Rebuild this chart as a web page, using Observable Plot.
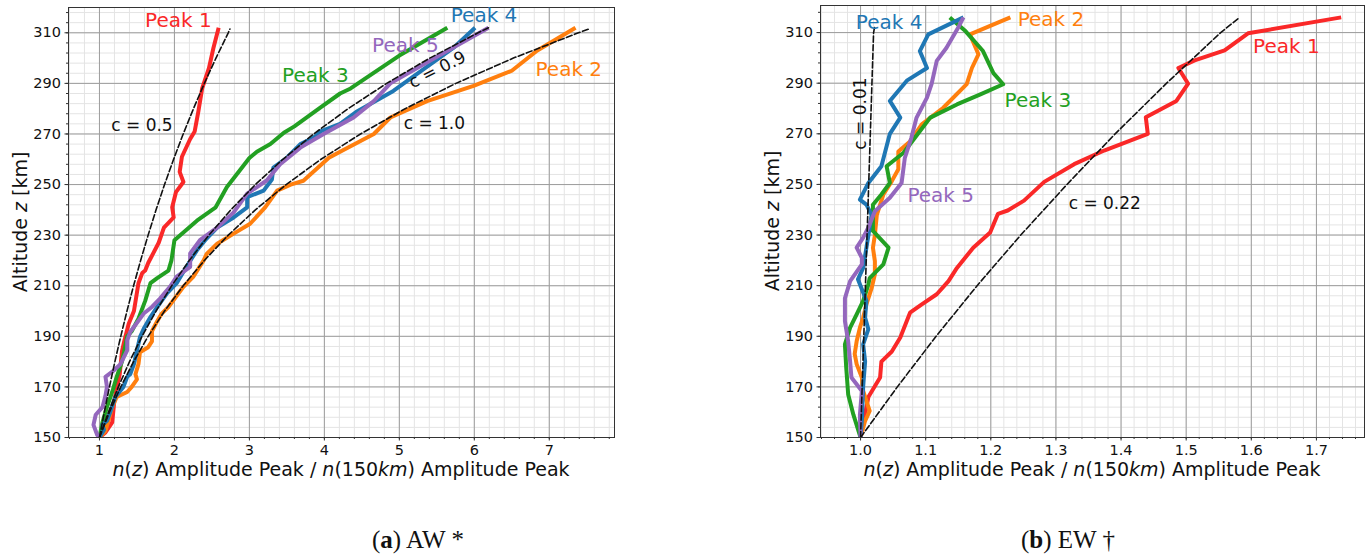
<!DOCTYPE html>
<html>
<head>
<meta charset="utf-8">
<script src="https://cdn.jsdelivr.net/npm/d3@7"></script>
<script src="https://cdn.jsdelivr.net/npm/@observablehq/plot@0.6"></script>
<style>
  html, body { margin: 0; padding: 0; background: white; }
  #wrap { position: relative; width: 1370px; height: 559px; overflow: hidden; background: white; }
  .panel { position: absolute; top: 0; }
  .cap { position: absolute; font-family: "Liberation Serif", "DejaVu Serif", serif; font-size: 25px; color: #111; transform: translate(-50%, -50%); white-space: nowrap; }
</style>
</head>
<body>
<div id="wrap">
  <div class="panel" id="left" style="left:0px"></div>
  <div class="panel" id="right" style="left:685px"></div>
  <div class="cap" style="left:418px; top:540px">(<b>a</b>) AW *</div>
  <div class="cap" style="left:1068px; top:540px">(<b>b</b>) EW †</div>
</div>
<script>
// ---------- Panel (a) AW : [ratio n(z)/n(150km), altitude km] ----------
const awPeak1 = [[1.0,150],[1.08,152],[1.17,156],[1.2,165],[1.27,175],[1.30,184],[1.33,188],[1.39,195],[1.46,200],[1.52,211],[1.57,215],[1.61,216],[1.65,219],[1.72,223],[1.79,227],[1.86,233],[1.99,237],[1.97,241],[2.02,247],[2.12,251],[2.07,255],[2.10,261],[2.21,268],[2.27,271],[2.32,279],[2.37,288],[2.46,296],[2.52,304],[2.59,312]];
const awPeak2 = [[1.0,150],[1.08,152.6],[1.12,156.6],[1.17,162],[1.23,166],[1.37,168],[1.43,170],[1.50,173],[1.48,175],[1.52,179],[1.54,183.7],[1.65,185.7],[1.70,188],[1.70,192],[1.77,196],[1.83,199],[1.92,201.6],[2.12,209.6],[2.25,213.5],[2.39,220],[2.43,222.6],[2.57,226.6],[2.79,230.6],[3.01,234.5],[3.21,241],[3.37,247.6],[3.55,250],[3.72,251.5],[4.06,260.6],[4.21,263],[4.66,270],[4.88,276.5],[5.37,283],[5.99,289],[6.5,295],[6.84,303],[7.35,312]];
const awPeak3 = [[1.0,150],[1.04,156],[1.10,162],[1.17,168],[1.23,174],[1.30,180],[1.33,184],[1.37,190],[1.43,192],[1.52,197],[1.61,204],[1.68,211],[1.77,213],[1.92,216],[1.96,220],[2.0,228],[2.3,235.7],[2.55,241],[2.7,249],[3.0,260.5],[3.1,263],[3.28,266],[3.46,270.5],[3.6,273],[3.95,280.5],[4.21,286],[4.35,288],[5.0,301],[5.64,312]];
const awPeak4 = [[1.0,150],[1.06,153],[1.04,155],[1.10,156.6],[1.15,160.6],[1.21,166],[1.32,170],[1.37,174],[1.41,175],[1.46,179],[1.50,184.4],[1.54,189.7],[1.59,193],[1.68,197.6],[1.77,201.6],[1.90,207],[2.03,211],[2.16,217.5],[2.30,224],[2.41,228],[2.57,233],[2.79,237],[2.97,241],[2.97,245],[3.19,247.6],[3.30,252],[3.32,256.7],[3.50,260.6],[3.68,266],[3.86,268.6],[3.95,271],[4.21,274],[4.44,279],[4.92,287],[5.72,304],[6.01,312]];
const awPeak5 = [[1.0,150],[0.97,151],[0.92,155],[0.95,159],[1.04,162],[1.08,166.5],[1.10,170],[1.08,174],[1.19,176.5],[1.28,179],[1.37,184.4],[1.37,188.4],[1.41,191.7],[1.59,199],[1.70,201.6],[1.81,205],[1.94,209.6],[2.03,213.6],[2.21,217.5],[2.21,222.8],[2.34,228],[2.57,233],[2.79,239],[2.97,246.4],[3.23,251.6],[3.41,258],[3.68,264.6],[3.99,270],[4.39,276.5],[4.66,283],[4.88,290],[5.59,302],[6.19,312]];
const awC05 = [[1,150],[1.0645,160],[1.133,170],[1.206,180],[1.284,190],[1.367,200],[1.455,210],[1.549,220],[1.649,230],[1.755,240],[1.868,250],[1.989,260],[2.117,270],[2.254,280],[2.399,290],[2.554,300],[2.718,310],[2.74,311.5]];
const awC09 = [[1,150],[1.119,160],[1.252,170],[1.401,180],[1.568,190],[1.755,200],[1.964,210],[2.198,220],[2.46,230],[2.752,240],[3.08,250],[3.447,260],[3.857,270],[4.317,280],[4.831,290],[5.406,300],[6.05,310],[6.19,312]];
const awC10 = [[1,150],[1.133,160],[1.284,170],[1.455,180],[1.649,190],[1.868,200],[2.117,210],[2.399,220],[2.718,230],[3.08,240],[3.49,250],[3.955,260],[4.482,270],[5.078,280],[5.755,290],[6.521,300],[7.389,310],[7.55,311.7]];
const awTicksX = [1,2,3,4,5,6,7];
const awTicksY = [150,170,190,210,230,250,270,290,310];

// ---------- Panel (b) EW ----------
const ewPeak1 = [[1.0,150],[1.006,158],[1.012,166],[1.03,173.7],[1.032,180],[1.048,184],[1.061,189.5],[1.071,196],[1.076,199.3],[1.094,202.6],[1.117,206.6],[1.135,211.8],[1.148,217],[1.173,225],[1.199,231],[1.211,238.4],[1.226,239.7],[1.251,243.6],[1.282,251],[1.328,258],[1.374,263.4],[1.441,270],[1.438,276.5],[1.485,283],[1.503,289.8],[1.488,296],[1.513,299],[1.559,303],[1.595,309.7],[1.738,316]];
const ewPeak2 = [[1.0,150],[1.007,156.6],[1.014,160.5],[1.004,168.4],[1.002,173.7],[0.994,179],[0.991,183],[0.994,188],[0.999,193.4],[1.004,197.4],[1.009,202.6],[1.017,209],[1.022,214.5],[1.022,219.7],[1.019,225],[1.022,230],[1.025,238],[1.035,246],[1.048,251.3],[1.058,256],[1.058,263],[1.076,267],[1.094,273.7],[1.127,280.3],[1.163,289.6],[1.171,296],[1.181,301.4],[1.168,309.3],[1.230,316]];
const ewPeak3 = [[1.0,150],[0.989,159],[0.981,167],[0.978,177.6],[0.976,186.8],[0.984,193.4],[0.994,198.7],[1.004,204],[1.012,210.5],[1.014,213],[1.035,218.4],[1.043,225],[1.019,231.6],[1.019,242],[1.032,246],[1.045,250.6],[1.040,257.2],[1.066,262.5],[1.091,271],[1.107,276.4],[1.148,281.6],[1.184,285.6],[1.219,289.6],[1.204,294],[1.188,302.7],[1.161,310.6],[1.137,316]];
const ewPeak4 = [[1.0,150],[1.002,156.6],[1.004,170],[1.007,180],[1.004,186.8],[1.012,192.8],[1.007,197.4],[1.009,204],[1.002,208.6],[0.996,212.5],[1.004,217],[1.009,225],[1.014,233],[1.017,238],[1.009,242],[0.999,244],[1.012,250.6],[1.032,257.2],[1.045,270],[1.061,276.4],[1.045,283],[1.071,291],[1.102,296],[1.091,302.7],[1.104,309.3],[1.158,316]];
const ewPeak5 = [[1.0,150],[0.999,159],[1.002,168.4],[0.986,173.7],[0.984,180],[0.981,188],[0.976,196],[0.976,205],[0.984,211.8],[1.002,218.4],[1.002,221],[0.994,225],[1.004,229],[1.012,233],[1.022,239.4],[1.045,244.7],[1.063,250.6],[1.068,260.5],[1.078,268.4],[1.086,276.4],[1.102,284.3],[1.109,289.6],[1.117,298.8],[1.132,304],[1.150,312],[1.158,316]];
const ewC001 = [[1,150],[1.005,190],[1.01,230],[1.015,270],[1.02,310],[1.0215,312]];
const ewC022 = [[1,150],[1.0565,170],[1.116,190],[1.179,210],[1.246,230],[1.317,250],[1.391,270],[1.47,290],[1.553,310],[1.582,316]];
const ewTicksX = [1.0,1.1,1.2,1.3,1.4,1.5,1.6,1.7];
const ewTicksY = [150,170,190,210,230,250,270,290,310];

// ---------- Annotations (data coordinates) ----------
const peakNames = ["Peak 1","Peak 2","Peak 3","Peak 4","Peak 5"];
const awPeakLabelX = [2.053, 7.26, 3.88, 6.13, 5.08];
const awPeakLabelY = [314.8, 295.6, 293, 316.7, 304.9];
const ewPeakLabelX = [1.6538, 1.2923, 1.2723, 1.0438, 1.123];
const ewPeakLabelY = [304.3, 315.2, 283.2, 314, 245.4];
const awCNames = ["c = 0.5","c = 0.9","c = 1.0"];
const awCLabelX = [1.567, 5.507, 5.467];
const awCLabelY = [273.3, 295.4, 274];
const ewCNames = ["c = 0.01","c = 0.22"];
const ewCLabelX = [1.0, 1.375];
const ewCLabelY = [278, 242.3];

const colors = ["#fa2828", "#ff7f0e", "#22a022", "#1f77b4", "#9467bd"];

function panel({peaks, dashed, ticksX, ticksY, xDomain, yDomain, minorX, minorY, marginLeft, marginRight, marginTop, fmt, peakLX, peakLY, cNames, cLX, cLY, cRot}) {
  const W = 685, H = 490, MB = 53;
  const marks = [
    Plot.gridX(minorX, {stroke: "#e4e4e4", strokeOpacity: 1, strokeWidth: 1}),
    Plot.gridY(minorY, {stroke: "#e4e4e4", strokeOpacity: 1, strokeWidth: 1}),
    Plot.gridX(ticksX, {stroke: "#9d9d9d", strokeOpacity: 1, strokeWidth: 1}),
    Plot.gridY(ticksY, {stroke: "#9d9d9d", strokeOpacity: 1, strokeWidth: 1}),
    Plot.axisX(minorX, {tickSize: 2, fill: "none", label: null, stroke: "#333"}),
    Plot.axisY(minorY, {tickSize: 2, fill: "none", label: null, stroke: "#333"}),
    Plot.axisX(ticksX, {tickSize: 3.5, tickPadding: 4, tickFormat: fmt, label: null, fontSize: 14.5, stroke: "#333", fill: "#111"}),
    Plot.axisY(ticksY, {tickSize: 3.5, tickPadding: 4, label: null, fontSize: 14.5, stroke: "#333", fill: "#111"}),
  ];
  peaks.forEach((p, i) => {
    marks.push(Plot.line(p, {x: d => d[0], y: d => d[1], stroke: colors[i], strokeWidth: 4, strokeLinejoin: "round", strokeLinecap: "butt", clip: true}));
  });
  dashed.forEach(p => {
    marks.push(Plot.line(p, {x: d => d[0], y: d => d[1], stroke: "#111", strokeWidth: 1.6, strokeDasharray: "6,2.6", clip: true}));
  });
  marks.push(Plot.frame({stroke: "#333", strokeWidth: 1}));
  marks.push(Plot.text(peakNames, {x: (d, i) => peakLX[i], y: (d, i) => peakLY[i], text: d => d, fill: (d, i) => colors[i], fontSize: 20, textAnchor: "middle", lineAnchor: "middle"}));
  cNames.forEach((t, i) => {
    marks.push(Plot.text([t], {x: () => cLX[i], y: () => cLY[i], text: d => d, fill: "#111", fontSize: 17, textAnchor: "middle", lineAnchor: "middle", rotate: cRot[i]}));
  });
  const svg = Plot.plot({
    width: W, height: H,
    marginLeft, marginRight, marginTop, marginBottom: MB,
    x: {domain: xDomain},
    y: {domain: yDomain},
    color: {type: "identity"},
    style: {fontFamily: "DejaVu Sans, sans-serif", fontSize: "14.5px", color: "#111", background: "white", overflow: "visible"},
    marks
  });
  const s = d3.select(svg);
  const cx = marginLeft + (W - marginLeft - marginRight) / 2;
  const cy = marginTop + (H - MB - marginTop) / 2;
  // x label with italic math parts
  const xl = s.append("text").attr("x", cx).attr("y", 476).attr("text-anchor", "middle")
    .attr("font-size", 19).attr("fill", "#111").attr("font-family", "DejaVu Sans, sans-serif");
  xl.append("tspan").attr("font-style", "italic").text("n");
  xl.append("tspan").text("(");
  xl.append("tspan").attr("font-style", "italic").text("z");
  xl.append("tspan").text(") Amplitude Peak / ");
  xl.append("tspan").attr("font-style", "italic").text("n");
  xl.append("tspan").text("(150");
  xl.append("tspan").attr("font-style", "italic").text("km");
  xl.append("tspan").text(") Amplitude Peak");
  // y label
  const yx = marginLeft - 48;
  const yl = s.append("text").attr("transform", `translate(${yx},${cy}) rotate(-90)`).attr("text-anchor", "middle")
    .attr("dy", "0.35em").attr("font-size", 19).attr("fill", "#111").attr("font-family", "DejaVu Sans, sans-serif");
  yl.append("tspan").text("Altitude ");
  yl.append("tspan").attr("font-style", "italic").text("z");
  yl.append("tspan").text(" [km]");
  return svg;
}

const leftMinorX = d3.range(0.6, 7.85, 0.2).map(v => +v.toFixed(2));
const yMinor = d3.range(150, 321, 4);
const rightMinorX = d3.range(0.94, 1.775, 0.02).map(v => +v.toFixed(3));

document.getElementById("left").appendChild(panel({
  peaks: [awPeak1, awPeak2, awPeak3, awPeak4, awPeak5],
  dashed: [awC05, awC09, awC10],
  ticksX: awTicksX, ticksY: awTicksY,
  xDomain: [0.587, 7.87], yDomain: [150, 320],
  minorX: leftMinorX, minorY: yMinor,
  marginLeft: 68, marginRight: 71, marginTop: 7,
  fmt: d => String(d),
  peakLX: awPeakLabelX, peakLY: awPeakLabelY,
  cNames: awCNames, cLX: awCLabelX, cLY: awCLabelY, cRot: [0, -27, 0]
}));

document.getElementById("right").appendChild(panel({
  peaks: [ewPeak1, ewPeak2, ewPeak3, ewPeak4, ewPeak5],
  dashed: [ewC001, ewC022],
  ticksX: ewTicksX, ticksY: ewTicksY,
  xDomain: [0.9385, 1.7738], yDomain: [150, 320.7],
  minorX: rightMinorX, minorY: yMinor.filter(v => v <= 320),
  marginLeft: 135, marginRight: 6, marginTop: 5,
  fmt: d3.format(".1f"),
  peakLX: ewPeakLabelX, peakLY: ewPeakLabelY,
  cNames: ewCNames, cLX: ewCLabelX, cLY: ewCLabelY, cRot: [-90, 0]
}));
</script>
</body>
</html>
